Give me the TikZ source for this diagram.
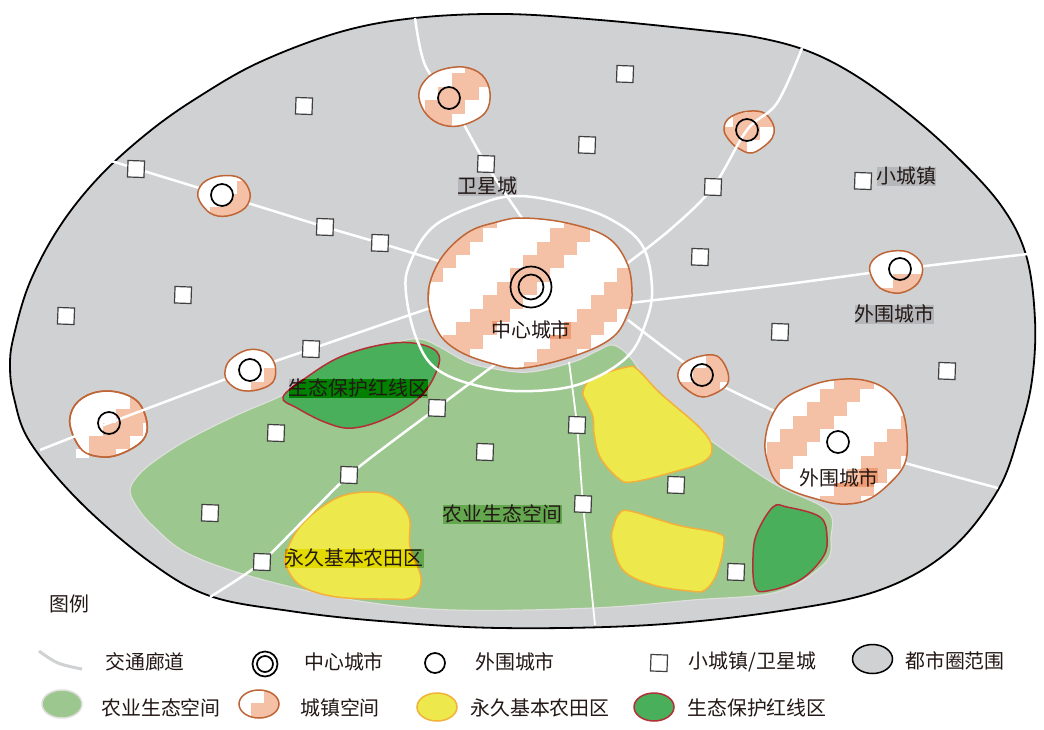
\documentclass[tikz,border=0pt]{standalone}
\usepackage{fontspec}
\usetikzlibrary{shapes.geometric}
\setmainfont{Noto Sans CJK SC}
\definecolor{regiongray}{HTML}{D0D1D3}
\definecolor{farmgreen}{HTML}{9CC78F}
\definecolor{farmedge}{HTML}{DEDFDC}
\definecolor{salmon}{HTML}{F4C0A6}
\definecolor{townline}{HTML}{BF6536}
\definecolor{fieldyellow}{HTML}{EDE84B}
\definecolor{fieldedge}{HTML}{F3B13A}
\definecolor{redzone}{HTML}{4AAF5B}
\definecolor{redline}{HTML}{B22F38}
\definecolor{inktext}{HTML}{231815}
\tikzset{
  x=1pt,y=-1pt,
  blob/.style={smooth cycle,tension=0.62},
  roadline/.style={draw=white,line width=2.5pt,line cap=butt},
  thinroad/.style={draw=white,line width=1.8pt},
  townedge/.style={draw=townline,line width=1.5pt},
  citycircle/.style={circle,draw=black,line width=1.7pt,fill=white,inner sep=0pt,minimum size=22pt},
  townsq/.style={rectangle,draw=black!75,line width=1.2pt,fill=white,inner sep=0pt,minimum size=16.5pt,rotate=-2},
  labeltext/.style={text=inktext,font=\fontsize{19.9pt}{22pt}\selectfont,inner sep=0pt},
  shade rect/.style={fill=black!37,blend mode=color burn},
}
\newcommand\stairs[2]{%
  \foreach \k in {-9,...,9}{\foreach \m in {-2,...,2}{%
    \pgfmathsetmacro\xa{#1-\k*13.4+\m*107.3}%
    \pgfmathsetmacro\ya{#2+\k*13.4}%
    \fill[salmon] (\xa,\ya) rectangle ++(40.2,13.45);}}}
\newcommand\town[3]{%
  \begin{scope}
    \clip plot[blob] coordinates {#1};
    \fill[white] (0,0) rectangle (1044,729);
    \stairs{#2}{#3}
  \end{scope}
  \draw[townedge] plot[blob] coordinates {#1};}
\newcommand\shadelab[5]{% name, x, y, half width, text
  \fill[shade rect] (#2-#4,#3-9.5) rectangle (#2+#4,#3+9.5);
  \node[labeltext] (#1) at (#2,#3) {#5};}
\begin{document}
\begin{tikzpicture}
\useasboundingbox (0,0) rectangle (1044,729);
\fill[white] (0,0) rectangle (1044,729);

% metropolitan region
\draw[fill=regiongray,draw=black,line width=1.8pt] plot[smooth cycle,tension=0.6] coordinates {
 (10,365) (14,335) (30,282) (60,226) (100,176) (150,131) (200,96) (260,62) (340,32) (415,18) (505,14)
 (600,20) (700,30) (755,37) (805,50) (850,72) (900,107) (950,150) (1000,204) (1026,255) (1035,320) (1032,380) (1020,430)
 (998,490) (950,550) (880,590) (780,611) (650,625) (500,628) (380,621) (290,611) (210,596)
 (150,562) (80,502) (30,442) (14,398)};

% agricultural space
\draw[fill=farmgreen,draw=farmedge,line width=1.2pt] plot[smooth cycle,tension=0.58] coordinates {
 (130,491) (136,478) (152,463) (187,440) (237,415) (283,395) (340,365) (395,343) (420,339) (438,346)
 (467,362) (495,369) (530,372) (573,362) (597,351) (613,345) (630,357) (650,385) (680,415) (710,440)
 (773,483) (827,510) (831,537) (825,563) (777,592) (693,600) (593,608) (453,610) (353,600)
 (253,577) (187,553) (153,526) (137,507)};

% permanent farmland
\draw[fill=fieldyellow,draw=fieldedge,line width=1.5pt] plot[blob] coordinates {
 (583,392) (593,378) (627,367) (638,370) (660,393) (700,428) (712,448) (703,462) (670,473)
 (632,482) (618,478) (600,457) (594,433) (593,417) (587,403)};
\draw[fill=fieldyellow,draw=fieldedge,line width=1.5pt] plot[blob] coordinates {
 (612,540) (614,525) (619,514) (630,511) (677,525) (717,533) (724,542) (717,573) (705,590) (690,591)
 (653,585) (623,570)};
\draw[fill=fieldyellow,draw=fieldedge,line width=1.5pt] plot[blob] coordinates {
 (286,553) (303,523) (337,498) (370,492) (393,498) (409,517) (410,547) (421,578) (413,597)
 (387,599) (337,597) (303,587) (288,570)};

% ecological red-line areas
\draw[fill=redzone,draw=redline,line width=1.5pt] plot[blob] coordinates {
 (283,397) (307,377) (340,357) (380,345) (413,343) (437,352) (437,370) (420,397) (387,418)
 (353,428) (327,423) (297,408)};
\draw[fill=redzone,draw=redline,line width=1.5pt] plot[blob] coordinates {
 (753,557) (757,533) (773,507) (787,507) (820,517) (827,537) (823,557) (800,580) (767,591)
 (755,587)};

% stops along the corridors
\coordinate (s01) at (304,106);
\coordinate (s02) at (625,74);
\coordinate (s03) at (587,145);
\coordinate (s04) at (486,164);
\coordinate (s05) at (136,169);
\coordinate (s06) at (713,187);
\coordinate (s07) at (325,227);
\coordinate (s08) at (380,243);
\coordinate (s09) at (863,181);
\coordinate (s10) at (700,257);
\coordinate (s11) at (66,316);
\coordinate (s12) at (183,295);
\coordinate (s13) at (780,332);
\coordinate (s14) at (311,349);
\coordinate (s15) at (947,371);
\coordinate (s16) at (276,433);
\coordinate (s17) at (437,408);
\coordinate (s18) at (577,425);
\coordinate (s19) at (485,452);
\coordinate (s20) at (349,475);
\coordinate (s21) at (676,485);
\coordinate (s22) at (583,504);
\coordinate (s23) at (210,513);
\coordinate (s24) at (262,562);
\coordinate (s25) at (736,572);
\coordinate (cA) at (449,98);
\coordinate (cB) at (222,195);
\coordinate (cC) at (747,130);
\coordinate (cD) at (702,375);
\coordinate (cE) at (900,269);
\coordinate (cF) at (109,423);
\coordinate (cG) at (250,370);
\coordinate (cH) at (838,442);
\coordinate (cM) at (531,287);
\coordinate (e1) at (415,18);
\coordinate (e2) at (802,48);
\coordinate (e3) at (108,160);
\coordinate (e4) at (1028,254);
\coordinate (e5) at (998,488);
\coordinate (e6) at (40,450);
\coordinate (e7) at (210,597);
\coordinate (e8) at (595,625);

% towns that the corridors cross on top
\town{(724,130) (728,119) (743,112) (762,112) (772,122) (774,133) (768,143) (752,153) (738,148) (729,140)}{720}{126.7}
\town{(70,425) (75,405) (93,393) (117,392) (138,402) (147,423) (143,440) (123,453) (103,457) (82,450)}{89.3}{436}
\fill[white] (76,449.4) rectangle (89.3,458);
\draw[townedge] plot[blob] coordinates {(70,425) (75,405) (93,393) (117,392) (138,402) (147,423) (143,440) (123,453) (103,457) (82,450)};

% transport corridors
\draw[roadline] plot[smooth,tension=0.6] coordinates {(e1) (425,65) (cA) (s04) (522,218)};
\draw[roadline] plot[smooth,tension=0.6] coordinates {(e2) (777,103) (cC) (s06) (672,228) (625,265)};
\draw[roadline] (e3) -- (cB) -- (s07) -- (s08) -- (442,262);
\draw[roadline] plot[smooth,tension=0.5] coordinates {(630,303) (780,285) (cE) (e4)};
\draw[roadline] plot[smooth,tension=0.4] coordinates {(628,320) (cD) (772,410) (cH) (905,463) (e5)};
\draw[roadline] plot[smooth,tension=0.3] coordinates {(e6) (cF) (cG) (s14) (430,308)};
\draw[roadline] plot[smooth,tension=0.3] coordinates {(e7) (s24) (s20) (s17) (497,363)};
\draw[thinroad] plot[smooth,tension=0.3] coordinates {(569,362) (s18) (s22) (e8)};

% ring around the central city
\draw[draw=white,line width=2.5pt] plot[smooth cycle,tension=0.62] coordinates {
 (517,196) (477,205) (433,227) (410,263) (406,293) (417,340) (438,370) (483,387) (533,391)
 (583,383) (627,357) (646,322) (652,287) (642,245) (610,219) (567,204)};

% towns
\town{(423,83) (438,71) (463,67) (482,75) (490,93) (485,113) (463,125) (443,125) (427,115) (419,98)}{438.3}{86.7}
\town{(198,197) (203,183) (220,176) (240,178) (250,193) (245,208) (227,216) (210,213)}{223.3}{194}
\town{(678,377) (682,365) (697,357) (717,356) (728,373) (725,387) (703,397) (685,388)}{692.7}{368.3}
\town{(225,372) (230,360) (247,350) (265,352) (275,365) (273,382) (257,390) (240,390) (228,382)}{250.7}{381.7}
% town with only its lower steps tinted
\begin{scope}
  \clip plot[blob] coordinates {(870,272) (873,260) (887,252) (908,252) (922,265) (918,283) (900,293) (880,288)};
  \fill[white] (860,245) rectangle (930,300);
  \fill[salmon] (893.3,274.3) rectangle (930,288);
  \fill[salmon] (880,287.6) rectangle (930,300);
\end{scope}
\draw[townedge] plot[blob] coordinates {(870,272) (873,260) (887,252) (908,252) (922,265) (918,283) (900,293) (880,288)};
% larger towns
\town{(765,442) (770,420) (783,400) (807,387) (833,380) (863,380) (887,390) (902,410) (907,437) (905,463) (890,483) (867,500) (840,504) (813,498) (790,490) (775,480) (767,460)}{780}{429}
\town{(428,295) (440,260) (467,233) (497,222) (523,218) (567,223) (607,237) (627,263) (632,293) (628,313) (613,337) (577,355) (523,368) (490,363) (457,350) (437,330)}{510}{268.3}

% city markers
\node[citycircle,fill=none] (mA) at (cA) {};
\node[citycircle] (mB) at (cB) {};
\node[citycircle,fill=none] (mC) at (cC) {};
\node[citycircle,fill=none] (mD) at (cD) {};
\node[citycircle,fill=none] (mE) at (cE) {};
\node[citycircle,fill=none] (mF) at (cF) {};
\node[citycircle] (mG) at (cG) {};
\node[citycircle] (mH) at (cH) {};
\node[citycircle,fill=none,minimum size=41pt] (mM1) at (cM) {};
\node[citycircle,fill=none,minimum size=25pt] (mM2) at (cM) {};

% small towns
\foreach \n in {01,02,03,04,05,06,07,08,09,10,11,12,13,14,15,16,17,18,19,20,21,22,23,24,25}
  \node[townsq] (sq\n) at (s\n) {};

% map labels
\shadelab{lWX}{487.5}{186}{29.5}{卫星城}
\shadelab{lXC}{906.5}{176}{29.5}{小城镇}
\shadelab{lWW1}{894.5}{314}{39.5}{外围城市}
\fill[shade rect] (550,320.5) rectangle (570.5,339);
\fill[shade rect] (492,320.5) rectangle (502,327);
\node[labeltext] (lZX) at (531,330) {中心城市};
\fill[shade rect] (860,468) rectangle (878,487);
\fill[shade rect] (834,482) rectangle (860,487);
\node[labeltext] (lWW2) at (839,478) {外围城市};
\shadelab{lST}{358.5}{388}{69.5}{生态保护红线区}
\shadelab{lNY}{502.5}{514}{59.5}{农业生态空间}
\shadelab{lYJ}{354}{558}{69.5}{永久基本农田区}
\node[labeltext] (lTL) at (69,604) {图例};

% legend, first row
\draw[draw=regiongray,line width=3pt] plot[smooth,tension=0.6] coordinates {(39,651) (58,663) (82,669)};
\node[labeltext] (t1) at (145,662) {交通廊道};
\node[citycircle,minimum size=25pt] (k1) at (265,664) {};
\node[citycircle,minimum size=16pt] (k1b) at (265,664) {};
\node[labeltext] (t2) at (344,662) {中心城市};
\node[citycircle,minimum size=20pt] (k2) at (435,663) {};
\node[labeltext] (t3) at (515,662) {外围城市};
\node[townsq] (k3) at (659,663) {};
\node[labeltext] (t4) at (752.5,662) {小城镇/卫星城};
\node[ellipse,draw=black,line width=1.5pt,fill=regiongray,minimum width=40pt,minimum height=29pt,inner sep=0pt] (k4) at (872.5,659) {};
\node[labeltext] (t5) at (955,661) {都市圈范围};

% legend, second row
\node[ellipse,draw=farmedge,line width=1.5pt,fill=farmgreen,minimum width=40pt,minimum height=28pt,inner sep=0pt] (k5) at (62,704) {};
\node[labeltext] (t6) at (161,708) {农业生态空间};
\begin{scope}
  \clip (259,704) ellipse [x radius=20,y radius=14];
  \fill[white] (235,688) rectangle (283,720);
  \fill[salmon] (264,688) rectangle (283,703);
  \fill[salmon] (250.7,703) rectangle (283,720);
\end{scope}
\node[ellipse,draw=townline,line width=1.5pt,minimum width=40pt,minimum height=28pt,inner sep=0pt] (k6) at (259,704) {};
\node[labeltext] (t7) at (340,708) {城镇空间};
\node[ellipse,draw=fieldedge,line width=1.5pt,fill=fieldyellow,minimum width=40pt,minimum height=28pt,inner sep=0pt] (k7) at (437,707) {};
\node[labeltext] (t8) at (540,708) {永久基本农田区};
\node[ellipse,draw=redline,line width=1.5pt,fill=redzone,minimum width=40pt,minimum height=28pt,inner sep=0pt] (k8) at (654,707) {};
\node[labeltext] (t9) at (757,708) {生态保护红线区};
\end{tikzpicture}
\end{document}
